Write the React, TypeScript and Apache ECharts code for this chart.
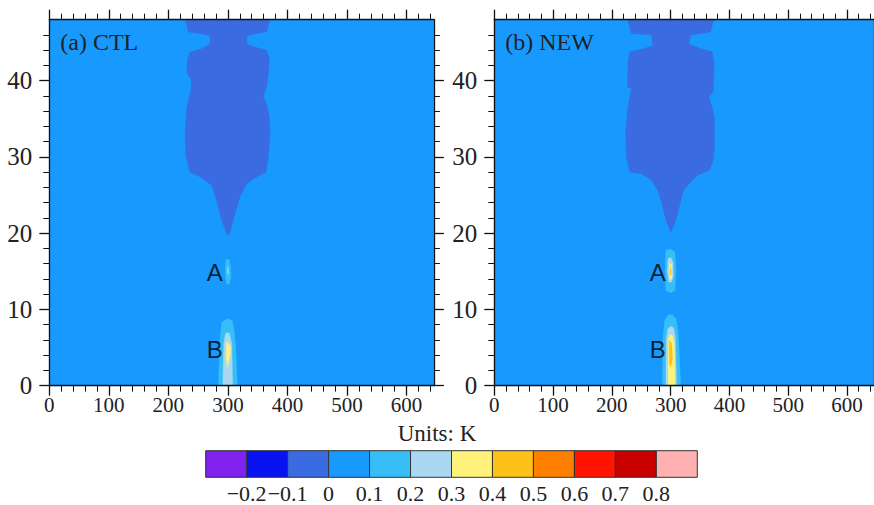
import React, { useEffect, useRef } from 'react';
import * as echarts from 'echarts';

// Domain of both panels
const X_MAX = 646;
const Y_MAX = 48;
const xTickValues = [0, 100, 200, 300, 400, 500, 600];
const yTickValues = [0, 10, 20, 30, 40];

// Contour levels (K) and the fill colour of each band
const levelLabels = ['−0.2', '−0.1', '0', '0.1', '0.2', '0.3', '0.4', '0.5', '0.6', '0.7', '0.8'];
const levelColors = [
  '#8021EE', '#0A12F2', '#3A6BE0', '#1899FE', '#38BEF7', '#A9D8F0',
  '#FFF27A', '#FEC118', '#FF7F00', '#FF1400', '#C80000', '#FFB1B1',
];

// Whole domain (0 .. 0.1 K band)
const domainOutline = [[0, 0], [X_MAX, 0], [X_MAX, Y_MAX], [0, Y_MAX]];

// (a) CTL: band outlines as [x, y]
const ctlNegative = [
  [229, 48], [233.5, 46.4], [253, 46.2], [270, 45.9], [270, 44.8], [256, 44.2], [236, 43.7],
  [232, 42.7], [231, 41.1], [239, 40.0], [237.5, 38.7], [231, 36.5], [228, 33.1], [229.6, 30.0],
  [236.4, 28.0], [253, 27.4], [272.8, 26.3], [281, 24.3], [289.6, 21.7], [298, 20.0], [300, 19.7],
  [303, 20.0], [312, 22.6], [320.3, 24.8], [331.6, 26.5], [348.4, 27.4], [364, 28.0], [368, 30.0],
  [370.7, 33.1], [369.6, 35.2], [365, 37.0], [359.5, 37.9], [365, 39.2], [368.5, 41.3],
  [369.6, 42.9], [365, 44.0], [345.5, 44.4], [331.6, 44.8], [331.6, 45.9], [348, 46.2],
  [365, 46.4], [370.7, 48],
];
const ctlA1 = [[296.8, 16.6], [302.4, 16.5], [304.7, 15.4], [304.7, 14.1], [301.9, 13.3], [297.4, 13.4], [295.7, 14.5], [295.7, 15.8]];
const ctlA2 = [[299.3, 15.6], [300.8, 15.2], [300.2, 14.6], [298.9, 14.9]];
const ctlB1 = [[284, 0], [286.8, 6.0], [289.6, 8.3], [299, 8.8], [307.4, 8.5], [310.3, 7.3], [313, 5.3], [315.8, 0]];
const ctlB2 = [[291.5, 0], [293, 5.5], [296.3, 6.9], [302.4, 6.9], [306.4, 5.5], [308, 0]];
const ctlB3 = [[298, 5.8], [304.7, 5.1], [303.5, 3.8], [299, 2.5], [296.8, 3.8]];

// (b) NEW: band outlines as [x, y]
const newNegative = [
  [226.6, 48], [233.4, 46.2], [266.9, 46.0], [269.8, 44.6], [250.1, 44.1], [230.7, 43.8],
  [227.8, 42.7], [226.6, 39.2], [233.4, 38.9], [230.7, 37.9], [226.6, 36.1], [223.3, 33.1],
  [225, 30.0], [230.7, 28.0], [250.1, 27.8], [266.9, 27.0], [278.2, 25.6], [283.7, 24.3],
  [292.1, 21.7], [299, 20.4], [300.5, 20.2], [302, 20.4], [308.9, 21.7], [317.3, 24.3],
  [321.8, 25.6], [334.1, 26.7], [345.3, 27.6], [366.6, 28.3], [372.2, 29.6], [374.4, 31.3],
  [374.4, 35.2], [370.5, 36.5], [365, 37.9], [372.2, 38.5], [374, 41.8], [373.3, 42.7],
  [370.5, 43.8], [350.9, 44.2], [331.4, 44.8], [334.1, 46.0], [367.7, 46.4], [373.3, 48],
];
const newA1 = [[292.1, 17.8], [300.5, 17.9], [307.2, 17.55], [308.9, 15.15], [307.2, 12.5], [300.5, 12.2], [292.1, 12.5], [290.4, 14.7], [290.9, 16.9]];
const newA2 = [[296.1, 16.7], [300.5, 16.8], [303.9, 16.2], [304.5, 14.3], [301.7, 13.6], [296.6, 13.6], [294.4, 14.9], [295, 16.2]];
const newA3 = [[298.3, 16.0], [301.7, 16.0], [302.2, 14.1], [298.8, 13.9], [297.8, 14.9]];
const newA4 = [[299.3, 15.4], [301, 15.2], [300.8, 14.5], [299.5, 14.6]];
const newB1 = [[286, 0], [287, 6.5], [290, 8.6], [296, 9.3], [303, 9.3], [309, 8.8], [312.5, 7.3], [315, 4], [317, 0]];
const newB2 = [[292, 0], [292.5, 6], [295, 7.4], [300, 7.8], [305, 7.6], [308, 6.5], [310, 0]];
const newB3 = [[296, 0], [296, 6.0], [298.8, 6.7], [303.3, 6.6], [306.2, 5.5], [307.2, 0]];
const newB4 = [[297.8, 6.0], [301.7, 5.55], [303.3, 3.6], [300.5, 2.5], [297.8, 2.9]];

// Annotated maxima
const markerNames = ['A', 'B'];
const markerPositions = [[278, 14.9], [278, 4.8]];

type Region = { level: number; points: number[][] };

const panels: { title: string; regions: Region[] }[] = [
  {
    title: '(a) CTL',
    regions: [
      { level: 3, points: domainOutline },
      { level: 2, points: ctlNegative },
      { level: 4, points: ctlA1 },
      { level: 5, points: ctlA2 },
      { level: 4, points: ctlB1 },
      { level: 5, points: ctlB2 },
      { level: 6, points: ctlB3 },
    ],
  },
  {
    title: '(b) NEW',
    regions: [
      { level: 3, points: domainOutline },
      { level: 2, points: newNegative },
      { level: 4, points: newA1 },
      { level: 5, points: newA2 },
      { level: 6, points: newA3 },
      { level: 7, points: newA4 },
      { level: 4, points: newB1 },
      { level: 5, points: newB2 },
      { level: 6, points: newB3 },
      { level: 7, points: newB4 },
    ],
  },
];

const SERIF = 'Liberation Serif';
const TEXT = '#222';
const PANEL_LEFT = [49.3, 494.3];
const PANEL_TOP = 19.7;
const PANEL_W = 384.6;
const PANEL_H = 366;

function frameAxis(extra: any) {
  return {
    type: 'value',
    min: 0,
    z: 6,
    axisLine: { show: true, onZero: false, lineStyle: { color: '#111', width: 1.3 } },
    axisTick: { show: true, length: 10, lineStyle: { color: '#111', width: 1.3 } },
    minorTick: { show: true, splitNumber: 5, length: 6, lineStyle: { color: '#111', width: 1 } },
    splitLine: { show: false },
    minorSplitLine: { show: false },
    ...extra,
  };
}

function buildOption() {
  const grid: any[] = [];
  const xAxis: any[] = [];
  const yAxis: any[] = [];
  const series: any[] = [];
  const graphic: any[] = [];

  panels.forEach((panel, p) => {
    grid.push({ left: PANEL_LEFT[p], top: PANEL_TOP, width: PANEL_W, height: PANEL_H });
    const xLabel = { customValues: xTickValues, fontSize: 21, fontFamily: SERIF, color: TEXT, margin: 9 };
    const yLabel = { customValues: yTickValues, fontSize: 25, fontFamily: SERIF, color: TEXT, margin: 17 };
    xAxis.push(frameAxis({
      gridIndex: p, position: 'bottom', max: X_MAX, interval: 100,
      axisTick: { show: true, length: 10, customValues: xTickValues, lineStyle: { color: '#111', width: 1.3 } },
      axisLabel: xLabel,
    }));
    xAxis.push(frameAxis({
      gridIndex: p, position: 'top', max: X_MAX, interval: 100,
      axisTick: { show: true, length: 10, customValues: xTickValues, lineStyle: { color: '#111', width: 1.3 } },
      axisLabel: { show: false },
    }));
    yAxis.push(frameAxis({
      gridIndex: p, position: 'left', max: Y_MAX, interval: 10,
      axisTick: { show: true, length: 10, customValues: yTickValues, lineStyle: { color: '#111', width: 1.3 } },
      axisLabel: yLabel,
    }));
    yAxis.push(frameAxis({
      gridIndex: p, position: 'right', max: Y_MAX, interval: 10,
      axisTick: { show: true, length: 10, customValues: yTickValues, lineStyle: { color: '#111', width: 1.3 } },
      axisLabel: { show: false },
    }));

    const regions = panel.regions;
    series.push({
      type: 'custom',
      xAxisIndex: p * 2,
      yAxisIndex: p * 2,
      z: 2,
      data: regions.map((r) => r.points[0]),
      renderItem: (params: any, api: any) => {
        const region = regions[params.dataIndex];
        const pts = region.points.map((pt) => api.coord(pt));
        return {
          type: 'polygon',
          shape: { points: pts },
          style: { fill: levelColors[region.level], stroke: levelColors[region.level], lineWidth: 0.4 },
        };
      },
    });
    series.push({
      type: 'scatter',
      xAxisIndex: p * 2,
      yAxisIndex: p * 2,
      z: 4,
      symbol: 'circle',
      symbolSize: 0.1,
      itemStyle: { color: 'rgba(0,0,0,0)' },
      label: {
        show: true, position: 'inside', formatter: '{b}',
        fontSize: 24, fontFamily: 'Liberation Sans', color: '#000',
      },
      data: markerNames.map((n, i) => ({ name: n, value: markerPositions[i] })),
    });
    graphic.push({
      type: 'text',
      z: 20,
      left: PANEL_LEFT[p] + 11,
      top: 30,
      style: { text: panel.title, font: `24px "${SERIF}"`, fill: TEXT },
    });
  });

  // Colour bar
  const cbIndex = panels.length;
  grid.push({ left: 205.7, top: 450.7, width: 491.6, height: 26.6 });
  xAxis.push({
    type: 'value', gridIndex: cbIndex, min: 0, max: levelColors.length, interval: 1,
    axisLine: { show: false }, axisTick: { show: false }, splitLine: { show: false },
    axisLabel: {
      customValues: levelLabels.map((_, i) => i + 1),
      formatter: (v: number) => levelLabels[Math.round(v) - 1] ?? '',
      fontSize: 22, fontFamily: SERIF, color: TEXT, margin: 5,
    },
  });
  yAxis.push({ type: 'value', gridIndex: cbIndex, min: 0, max: 1, show: false });
  series.push({
    type: 'custom',
    xAxisIndex: cbIndex * 2,
    yAxisIndex: cbIndex * 2,
    data: levelColors.map((_, i) => [i, 0, i + 1, 1]),
    encode: { x: [0, 2], y: [1, 3] },
    renderItem: (params: any, api: any) => {
      const a = api.coord([api.value(0), api.value(1)]);
      const b = api.coord([api.value(2), api.value(3)]);
      return {
        type: 'rect',
        shape: { x: a[0], y: b[1], width: b[0] - a[0], height: a[1] - b[1] },
        style: { fill: levelColors[params.dataIndex], stroke: '#333', lineWidth: 1 },
      };
    },
  });
  graphic.push({
    type: 'text',
    z: 20,
    left: 'center',
    top: 422,
    style: { text: 'Units: K', font: `23px "${SERIF}"`, fill: TEXT },
  });

  return { animation: false, backgroundColor: '#fff', grid, xAxis, yAxis, series, graphic };
}

export default function App() {
  const ref = useRef<HTMLDivElement>(null);
  useEffect(() => {
    if (!ref.current) return;
    const chart = echarts.init(ref.current, undefined, { renderer: 'svg' });
    chart.setOption(buildOption() as any);
    return () => chart.dispose();
  }, []);
  return (
    <div
      ref={ref}
      style={{ position: 'absolute', left: 0, top: 0, width: 874, height: 505 }}
    />
  );
}
